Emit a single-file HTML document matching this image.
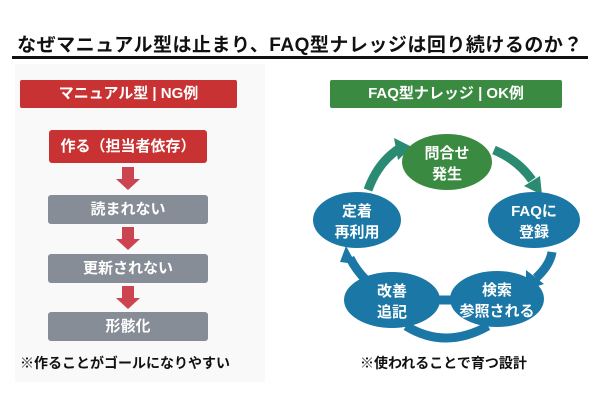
<!DOCTYPE html>
<html><head><meta charset="utf-8"><style>
body{margin:0;width:600px;height:400px;background:#fff;overflow:hidden;font-family:"Liberation Sans","Noto Sans CJK JP",sans-serif;position:relative}
.a{position:absolute}
.t{left:0;top:30px;width:600px;text-align:center;font-size:19px;font-weight:bold;color:#111;letter-spacing:0.5px}
.line{left:12px;top:56px;width:576px;height:3px;background:#111}
.panel{left:15px;top:64px;width:250px;height:318px;background:#f9f9f9}
.hd{color:#fff;font-weight:bold;font-size:15px;text-align:center;line-height:28px;border-radius:2px}
.box{color:#fff;font-weight:bold;font-size:15px;text-align:center;border-radius:3px;left:48px;width:160px}
.g{background:#868d96;height:29px;line-height:29px}
.note{font-size:14px;font-weight:bold;color:#111}
</style></head><body>
<div class="a t">なぜマニュアル型は止まり、FAQ型ナレッジは回り続けるのか？</div>
<div class="a line"></div>
<div class="a panel"></div>
<div class="a hd" style="left:20px;top:80px;width:217px;background:#c83232">マニュアル型 | NG例</div>
<div class="a box" style="top:130px;height:33px;line-height:33px;background:#c83232;left:49px;width:158px">作る（担当者依存）</div>
<div class="a box g" style="top:195px">読まれない</div>
<div class="a box g" style="top:254px">更新されない</div>
<div class="a box g" style="top:312px">形骸化</div>
<svg class="a" style="left:0;top:0" width="600" height="400">
<g fill="#cc4450">
<polygon points="122,167 134,167 134,179 140,179 128,190 116,179 122,179"/>
<polygon points="122,227 134,227 134,239 140,239 128,250 116,239 122,239"/>
<polygon points="122,286 134,286 134,298 140,298 128,309 116,298 122,298"/>
</g>
<g fill="none" stroke-width="9">
<path d="M368,190 Q378,162 400,148" stroke="#2a8a72"/>
<path d="M494,150 Q518,160 532,180" stroke="#2a8a72"/>
<path d="M552,252 Q550,265 536,278" stroke="#1b78a6"/>
<path d="M406,326 Q445,350 488,326" stroke="#1b78a6"/>
<path d="M366,280 Q356,270 350,258" stroke="#1b78a6"/>
<path d="M452,300 L432,300" stroke="#1b78a6"/>
</g>
<polygon points="394,138 412,147 398,160" fill="#2a8a72"/>
<polygon points="524,186 542,195 540,176" fill="#2a8a72"/>
<polygon points="526,270 526,290 544,284" fill="#1b78a6"/>
<polygon points="340,262 356,264 346,246" fill="#1b78a6"/>
<polygon points="435,289 420,300 435,311" fill="#1b78a6"/>
<ellipse cx="447" cy="162" rx="45" ry="28" fill="#3b8a42"/>
<ellipse cx="534" cy="220" rx="46" ry="28" fill="#1b78a6"/>
<ellipse cx="497" cy="299" rx="47" ry="28" fill="#1b78a6"/>
<ellipse cx="392" cy="300" rx="48" ry="28" fill="#1b78a6"/>
<ellipse cx="357" cy="220" rx="44" ry="28" fill="#1b78a6"/>
<g fill="#fff" font-size="15" font-weight="bold" text-anchor="middle" font-family="Liberation Sans,Noto Sans CJK JP,sans-serif">
<text x="447" y="158">問合せ</text><text x="447" y="179">発生</text>
<text x="534" y="216">FAQに</text><text x="534" y="237">登録</text>
<text x="497" y="295">検索</text><text x="497" y="316">参照される</text>
<text x="392" y="296">改善</text><text x="392" y="317">追記</text>
<text x="357" y="216">定着</text><text x="357" y="237">再利用</text>
</g>
</svg>
<div class="a hd" style="left:330px;top:80px;width:232px;background:#3b8a42">FAQ型ナレッジ | OK例</div>
<div class="a note" style="left:20px;top:353px">※作ることがゴールになりやすい</div>
<div class="a note" style="left:360px;top:353px">※使われることで育つ設計</div>
</body></html>
